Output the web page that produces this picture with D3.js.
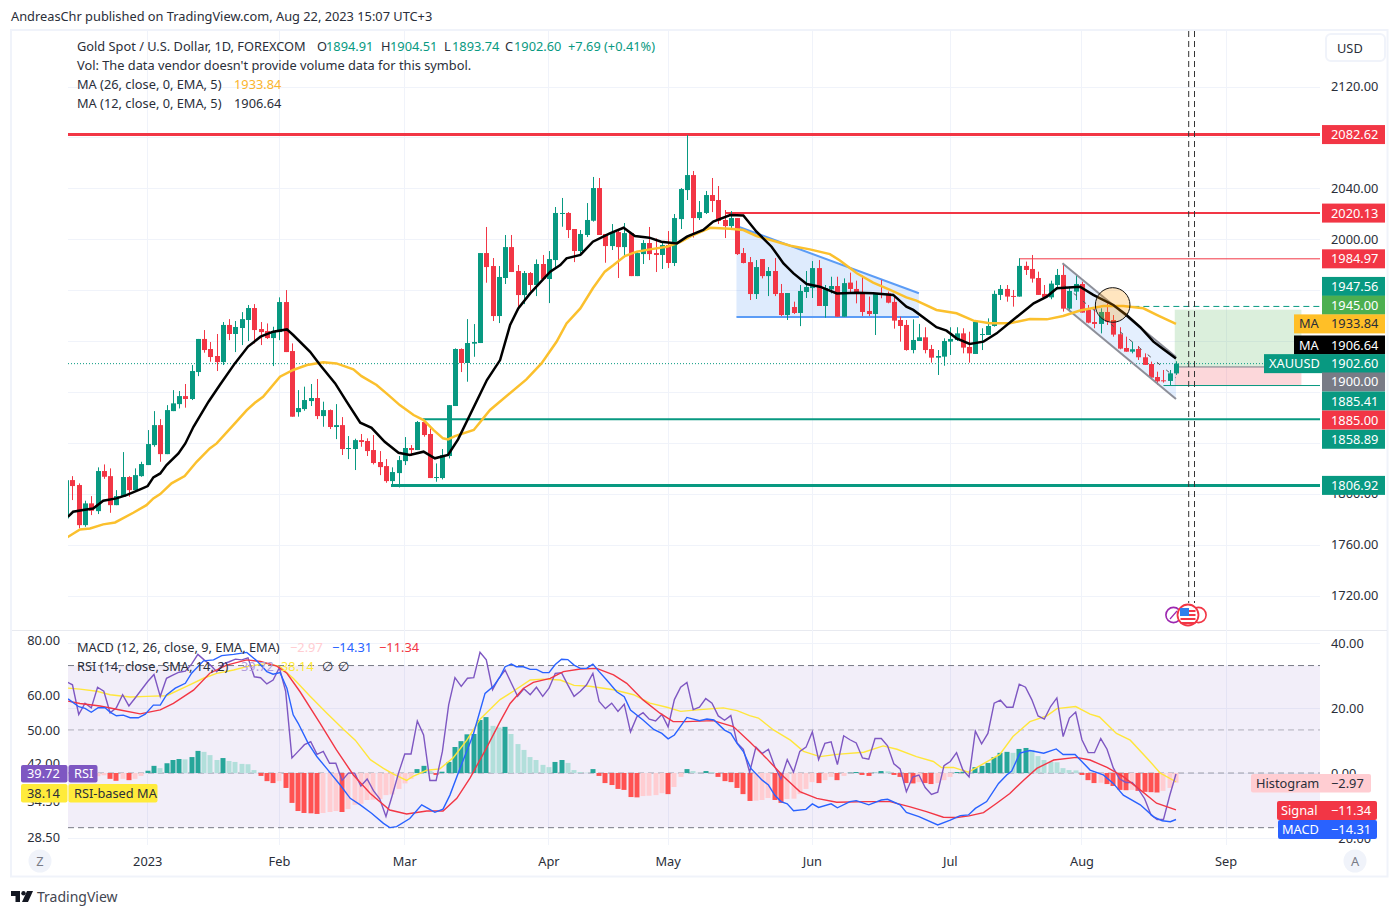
<!DOCTYPE html>
<html>
<head>
<meta charset="utf-8">
<script src="https://cdn.jsdelivr.net/npm/d3@7/dist/d3.min.js"></script>
<style>
  html, body { margin: 0; padding: 0; background: #fff; }
  svg { display: block; }
  text { font-family: "Noto Sans", sans-serif; font-size: 12.8px; fill: #2a2e39; }
  .domain { display: none; }
  .tick line { display: none; }
</style>
</head>
<body>
<svg id="chart" width="1399" height="916"></svg>
<script>
// candles
const opens = [
  1781.0,1811.1,1807.2,1775.7,1792.8,1786.7,1818.2,1814.2,1791.4,1798.0,
  1813.5,1803.2,1814.2,1822.9,1838.6,1854.3,1831.5,1865.3,1870.8,1877.1,
  1874.8,1896.0,1922.0,1914.1,1908.6,1903.8,1933.0,1925.9,1930.6,1936.9,
  1946.3,1929.8,1928.2,1922.7,1927.4,1951.0,1912.5,1864.5,1866.9,1873.2,
  1875.6,1861.4,1866.1,1852.8,1854.3,1835.5,1835.5,1842.5,1841.8,1834.7,
  1825.3,1822.1,1810.3,1816.6,1826.0,1836.3,1834.7,1856.7,1847.3,1812.7,
  1812.7,1830.0,1869.3,1914.1,1903.1,1918.3,1918.8,1989.5,1979.3,1940.0,
  1969.9,1994.2,1975.4,1956.5,1973.8,1964.4,1980.9,1969.1,1984.0,2020.2,
  2021.0,2008.4,1991.1,2003.7,2014.9,2040.6,2004.5,1995.0,2006.0,1994.2,
  2005.2,1971.4,1988.7,1997.4,1989.5,1988.0,1995.8,1981.7,2016.2,2039.0,
  2050.8,2017.0,2021.0,2035.1,2031.2,2015.5,2010.7,2017.0,1989.5,1982.4,
  1957.3,1984.8,1971.4,1975.4,1958.1,1940.8,1947.1,1942.4,1958.9,1962.0,
  1977.7,1947.9,1961.0,1963.6,1939.5,1966.3,1961.3,1958.4,1944.0,1941.6,
  1957.9,1957.9,1951.1,1936.9,1933.0,1913.3,1920.4,1923.3,1914.1,1907.3,
  1908.1,1919.9,1921.2,1926.4,1915.7,1910.2,1925.1,1925.1,1932.2,1956.6,
  1961.3,1955.8,1955.3,1979.4,1977.0,1969.9,1957.4,1954.7,1964.4,1972.3,
  1945.8,1959.2,1965.2,1945.0,1935.3,1933.8,1943.2,1936.9,1925.7,1914.9,
  1912.0,1914.1,1907.6,1902.3,1892.1,1889.5,1889.0,1894.91
];
const highs = [
  1812.0,1814.2,1808.5,1794.9,1798.5,1821.1,1823.4,1820.3,1803.2,1833.1,
  1814.2,1820.3,1825.5,1850.4,1865.3,1859.0,1870.0,1881.8,1881.1,1886.6,
  1901.5,1922.0,1929.0,1919.6,1925.9,1935.3,1937.6,1936.1,1943.1,1948.7,
  1949.4,1935.3,1934.2,1931.6,1954.7,1960.4,1918.5,1881.8,1884.5,1886.6,
  1890.5,1872.7,1866.6,1870.8,1860.6,1845.7,1843.6,1847.3,1843.9,1846.5,
  1833.9,1827.6,1821.1,1830.0,1844.9,1838.6,1857.5,1858.3,1851.7,1824.2,
  1835.5,1870.0,1914.6,1914.6,1937.6,1933.7,1989.5,2010.0,1985.6,1979.3,
  2003.7,2003.7,1980.1,1975.4,1974.6,1984.5,1988.0,1991.1,2025.7,2032.8,
  2021.7,2008.4,2007.6,2028.8,2049.3,2048.5,2004.5,2012.3,2008.4,2013.1,
  2005.2,1991.1,1999.7,2010.0,2001.0,1999.0,2006.8,2020.2,2040.6,2082.3,
  2054.0,2030.4,2038.3,2048.5,2042.2,2023.3,2022.5,2017.0,1993.5,1986.4,
  1984.0,1984.8,1978.5,1985.6,1965.2,1958.1,1951.3,1964.4,1975.4,1983.2,
  1984.0,1964.4,1970.9,1970.9,1969.6,1974.1,1967.8,1971.8,1955.3,1957.9,
  1968.4,1959.2,1955.3,1939.5,1936.9,1937.4,1933.8,1931.2,1917.3,1913.3,
  1922.5,1931.2,1931.2,1930.4,1927.7,1935.6,1930.4,1938.2,1960.0,1964.4,
  1964.4,1960.5,1985.4,1982.8,1988.0,1974.9,1964.4,1967.8,1977.0,1981.5,
  1963.1,1972.8,1967.0,1948.7,1946.1,1946.1,1950.0,1940.8,1931.2,1923.8,
  1919.9,1916.5,1910.7,1904.2,1896.3,1897.6,1897.6,1904.51
];
const lows = [
  1780.0,1795.4,1773.1,1774.4,1783.6,1784.4,1812.1,1785.4,1791.4,1798.0,
  1798.0,1802.7,1813.7,1822.9,1837.3,1825.5,1831.5,1865.3,1867.4,1868.0,
  1874.0,1892.8,1911.2,1904.1,1896.8,1901.5,1921.1,1911.7,1917.2,1920.4,
  1918.5,1917.2,1922.0,1900.7,1921.1,1911.7,1860.9,1860.9,1865.6,1869.3,
  1859.0,1853.0,1851.2,1843.3,1830.8,1827.6,1819.0,1837.3,1830.0,1823.4,
  1815.0,1809.0,1807.2,1805.3,1822.9,1830.0,1834.7,1845.2,1812.7,1809.8,
  1811.6,1828.1,1869.3,1896.0,1888.4,1908.0,1918.8,1966.2,1936.1,1934.5,
  1965.2,1974.6,1944.7,1949.4,1959.7,1955.7,1968.3,1950.2,1978.3,2010.2,
  2001.3,1982.4,1988.0,2002.1,2014.2,2003.7,1981.9,1991.9,1969.9,1988.0,
  1971.4,1971.4,1980.9,1984.0,1974.6,1977.0,1977.7,1979.3,2008.4,2031.2,
  2001.7,2015.5,2020.2,2021.7,2012.3,2001.3,2007.6,1988.0,1981.4,1952.6,
  1953.4,1969.6,1955.7,1955.7,1940.0,1936.9,1941.6,1932.1,1954.2,1954.2,
  1947.9,1938.7,1957.8,1939.5,1939.5,1957.9,1950.0,1940.1,1940.1,1925.1,
  1954.0,1950.0,1930.1,1919.9,1912.8,1910.7,1920.4,1910.7,1903.4,1893.7,
  1901.0,1909.4,1920.4,1910.7,1903.4,1910.2,1913.3,1925.1,1931.7,1952.6,
  1951.3,1947.4,1955.3,1972.3,1966.3,1956.6,1953.9,1953.2,1961.0,1943.5,
  1944.8,1952.6,1942.7,1934.3,1930.4,1926.4,1933.0,1923.8,1913.9,1912.0,
  1910.7,1905.5,1901.6,1891.1,1885.8,1887.7,1885.8,1893.74
];
const closes = [
  1811.0,1806.4,1775.7,1792.8,1787.0,1818.2,1813.7,1791.4,1798.5,1813.5,
  1803.2,1815.0,1823.7,1839.4,1854.3,1831.5,1866.1,1871.4,1877.1,1874.8,
  1896.8,1922.0,1913.3,1907.8,1903.8,1933.0,1925.9,1931.4,1937.6,1946.3,
  1929.0,1927.4,1922.7,1928.2,1951.0,1911.7,1860.9,1867.7,1874.0,1875.6,
  1861.4,1866.1,1852.8,1854.3,1835.5,1836.3,1842.5,1841.0,1833.9,1824.5,
  1821.3,1810.3,1817.4,1826.8,1836.3,1834.7,1856.7,1846.5,1812.7,1813.5,
  1830.7,1870.0,1914.1,1903.1,1918.8,1919.6,1989.5,1978.5,1940.0,1970.7,
  1994.2,1974.6,1956.5,1973.8,1964.4,1980.9,1969.1,1984.8,2021.0,2021.0,
  2007.6,1991.1,2004.5,2015.5,2040.6,2003.7,1995.0,2006.0,1994.2,2005.2,
  1971.4,1989.5,1997.4,1988.7,1988.0,1995.8,1981.7,2017.0,2039.8,2050.8,
  2017.0,2021.7,2035.1,2030.4,2014.7,2010.7,2017.0,1988.7,1981.7,1957.3,
  1978.5,1971.4,1975.4,1957.3,1940.8,1958.1,1942.4,1959.7,1962.8,1977.7,
  1947.9,1962.0,1963.6,1939.5,1965.9,1961.3,1957.4,1943.2,1941.6,1957.9,
  1956.6,1950.5,1936.4,1932.2,1913.3,1921.2,1923.3,1913.3,1907.3,1908.6,
  1920.4,1922.0,1926.4,1915.2,1910.7,1935.6,1925.9,1932.2,1957.4,1961.3,
  1955.3,1955.3,1979.4,1976.2,1969.4,1956.6,1954.7,1965.5,1972.3,1945.8,
  1959.7,1965.2,1942.7,1934.8,1933.8,1943.2,1935.6,1925.4,1914.4,1912.0,
  1913.9,1907.6,1901.6,1891.6,1888.7,1889.0,1895.0,1902.60
];

// moving averages as [bar, price]
const ma12 = [
  [0.3,1782.3],[1.1,1786.2],[2.7,1787.5],[4.3,1788.8],[5.9,1794.9],[8,1796.7],[9.6,1799.3],[11.8,1803.8],[13,1806.4],
  [13.9,1813.2],[15,1816.3],[16,1822.9],[17.9,1832.1],[19,1839.9],[20.3,1853],[22.7,1872.7],[24.5,1885.8],[26.9,1902.8],
  [29,1916],[31,1923.8],[33,1927.7],[35.2,1929.5],[36.2,1925.1],[38.9,1911.9],[40.5,1901.5],[42.9,1887.1],[44.7,1872.9],
  [46.9,1856.2],[48.7,1852.2],[50.8,1841.2],[53,1832.6],[54.8,1830.8],[57,1833.4],[58.8,1828.2],[60.9,1830.8],[62.5,1843.1],
  [67.1,1889.7],[69.2,1905.4],[70.8,1933],[72.1,1946],[74,1957.8],[77.2,1974.8],[78.8,1980.1],[79.8,1985.3],[82,1988],
  [84,1998.4],[86.7,2005],[88.9,2009.4],[90.7,2002.9],[93,2001.6],[94.9,1998.4],[97.4,1997.1],[99,2002.4],[101.6,2007.6],
  [103.2,2014.2],[105.9,2019.4],[108,2019.1],[110.1,2006.3],[112.5,1994.5],[114.4,1981.4],[116,1973.5],[118.1,1965.2],
  [120.2,1963.1],[122.9,1957.8],[126.1,1958.4],[128.7,1957.9],[131.9,1956.6],[134,1947.4],[135.1,1944.8],[138.8,1931.2],
  [140.4,1928.5],[142,1922.5],[144.1,1918.1],[146.3,1919.9],[148.4,1926.4],[151,1936.9],[154.3,1950],[156.4,1955.3],
  [158,1961.8],[161.7,1963.1],[163.8,1956.6],[167,1948.7],[169.1,1940.8],[171.3,1931.2],[173.4,1919.9],[175,1913.9],[177,1906.64]
];
const ma26 = [
  [0,1765.6],[2.2,1772.3],[3.8,1773.1],[5.9,1776.3],[7.8,1777.8],[10.7,1785.4],[12.8,1791.4],[13.9,1796.7],[15,1800.1],[16.8,1808.5],
  [18.9,1814.2],[20.8,1825.5],[22.9,1836],[24,1839.9],[26.9,1855.6],[28.8,1866.1],[30.1,1871.9],[31.4,1876.6],[34.1,1892.3],
  [36.2,1897.6],[38.4,1901.5],[41,1903.6],[43.1,1902.8],[45.8,1898.1],[47.1,1892.8],[49.5,1885.8],[51.4,1877.9],[53.2,1870],
  [55.4,1862.2],[57,1858.3],[58.6,1850.4],[60.1,1843.9],[60.9,1843.1],[62,1845.7],[65,1850.5],[67.6,1866.2],[73.4,1890.2],
  [75.8,1902.8],[78.2,1919.8],[79.8,1934.2],[82,1946],[84,1961.8],[85.9,1974.9],[87.3,1980.1],[89.1,1987.2],[91,1990.6],
  [93.1,1992.4],[95.8,1994.5],[98,1998.4],[100,2003.7],[102.7,2009.4],[105.9,2008.6],[108,2007.6],[110.1,2002.9],[113.3,1998.4],
  [115.5,1995.3],[118.6,1992.4],[121.8,1988.7],[123.4,1983.6],[126.1,1973.6],[128.7,1966.3],[131.4,1960.5],[134,1954.7],
  [135.6,1952.1],[138.8,1944.8],[142,1942.2],[144.7,1936.4],[147.3,1934.3],[150.5,1934.3],[153.7,1937.7],[156.4,1937.4],
  [159,1940.1],[161.7,1944.3],[165.4,1947.9],[168.6,1947.9],[171.8,1946.1],[174,1940.8],[177,1933.84]
];

// lower pane
const rsiValues = [
  64.4,63.3,54.2,57.5,56.1,62.5,61.2,54.7,56.1,60.1,56.7,59.1,61.7,64.4,66.8,59.6,65.5,66.6,67.6,68.0,
  70.5,74.2,72.1,70.2,67.8,70.5,71.4,72.4,72.1,72.9,66.0,65.7,63.6,64.9,69.2,61.2,43.2,44.7,46.3,47.0,
  44.0,44.7,42.0,42.0,38.4,39.9,39.9,37.3,38.7,36.4,34.9,31.8,35.5,39.9,44.1,44.1,52.4,48.7,38.4,38.4,
  44.7,57.0,65.7,62.8,65.5,65.7,75.0,72.1,61.7,65.5,68.4,63.8,59.6,62.0,60.1,62.5,59.6,62.2,67.2,67.4,
  63.3,59.6,61.2,63.3,67.2,58.0,55.9,57.5,55.1,57.2,49.5,53.5,54.7,52.9,52.4,54.2,50.8,58.6,62.5,64.1,
  55.6,56.3,58.9,57.5,53.8,52.6,53.9,46.7,45.2,40.1,45.7,44.2,45.2,41.3,38.7,42.8,40.1,44.7,45.7,49.5,
  42.8,46.6,47.0,41.7,48.5,47.5,46.7,43.2,42.9,47.8,47.8,46.0,41.9,40.8,36.2,39.1,39.5,37.0,35.7,36.1,
  41.5,42.4,44.4,40.6,39.1,49.7,46.5,49.1,57.5,58.4,56.3,56.3,63.5,62.5,58.6,53.8,52.9,56.5,59.1,48.3,
  53.2,54.9,47.5,44.4,44.4,47.8,45.2,41.0,38.7,38.0,38.0,36.7,34.9,32.1,31.3,31.3,35.5,39.72
];
const rsiMa = [
  [0.3,62.2],[2.2,61.9],[4.9,61.2],[7,60.1],[10.2,59.4],[12.8,59.6],[16,59.8],[19.2,62.8],[21.9,65.5],[24,67.2],[26.7,68.4],
  [28.8,69.6],[32,70.8],[34.1,69.6],[36.2,65.5],[38.9,59.6],[41.5,54.7],[44.2,50.2],[46.1,47.4],[48.5,42.8],[50.6,40.9],
  [52.2,39.7],[54.3,38.4],[55.4,39.3],[57.5,40.5],[59.6,40.8],[61.7,43.2],[63.9,47.4],[66,52.9],[68.1,56.6],[69.2,58.6],
  [71.3,61.2],[74,64.9],[76.1,65.2],[78.8,64.9],[81,63.1],[83.5,62.8],[87.3,61.7],[90.5,60.1],[93.1,57.5],[95.8,56.3],
  [98,55.1],[101.1,55.6],[104.8,56.1],[107,55.3],[109,53.9],[110.4,53.2],[112.8,50],[115.5,47.4],[117.6,44.7],[120.2,43.5],
  [122.9,44],[127.2,44.5],[130.3,46],[132.5,45.2],[135.6,43.5],[138.3,42.4],[139.6,41.1],[141.5,41.1],[143.9,40.1],
  [148.9,44],[151,48.3],[153.7,52.2],[156.4,53.8],[158,55.9],[161,56.5],[163.3,54.3],[164.8,53.5],[167.5,49.1],[169.7,47.4],
  [172.6,42.8],[174.5,39.9],[177,38.14]
];
const histValues = [
  -1.0,-0.8,-0.5,-0.6,-1.2,-1.0,-0.7,-1.8,-2.4,-1.8,-2.2,-1.8,-0.9,0.7,2.2,1.5,3.0,4.0,4.3,4.2,
  4.9,6.8,6.5,5.5,4.0,4.6,3.7,3.4,2.8,2.7,0.9,-0.9,-2.5,-3.1,-2.5,-4.6,-9.2,-11.7,-12.3,-12.4,
  -12.6,-12.3,-12.0,-11.7,-12.0,-11.1,-9.8,-9.5,-8.3,-8.2,-8.0,-6.8,-6.6,-4.9,-3.2,-1.8,1.2,2.2,0.6,-0.6,
  0.4,3.4,8.0,9.8,11.9,12.0,16.3,17.2,14.5,14.0,14.2,12.0,8.9,7.1,4.9,4.0,2.5,1.8,3.4,4.0,
  3.1,0.9,0.3,0.1,1.2,-0.9,-3.1,-3.7,-4.9,-5.2,-7.4,-7.5,-7.1,-7.0,-6.8,-6.2,-6.5,-4.3,-1.2,1.2,
  0.6,0.1,0.6,0.3,-1.2,-2.5,-2.8,-4.6,-6.5,-8.6,-8.5,-8.3,-7.7,-8.3,-9.2,-8.0,-7.9,-6.5,-4.9,-2.8,
  -3.1,-2.2,-1.2,-2.2,-0.9,0.1,0.3,-0.6,-0.9,0.1,0.6,0.5,-0.6,-1.2,-3.1,-3.2,-2.8,-3.1,-3.4,-3.1,
  -2.2,-1.2,0.3,0.4,0.1,1.8,2.2,3.1,4.9,6.2,6.5,6.2,7.4,7.7,7.1,5.2,4.0,3.4,3.3,1.5,
  0.9,0.8,-0.6,-2.2,-3.1,-3.0,-3.4,-4.0,-5.2,-5.3,-5.2,-5.5,-5.8,-5.9,-6.0,-5.5,-4.6,-2.97
];
const macdLine = [
  [0.3,22.8],[2,20.4],[3,19.9],[4,18.7],[5.1,20.1],[6.2,20.1],[7,18.7],[8,17.6],[9.1,17.8],[10.2,17],[11.5,17],[12.6,18.1],
  [13.9,20.9],[15,20.9],[16,24],[17.4,26.1],[19,27.6],[20,30.7],[21.9,34.5],[23.5,34.8],[24.8,36.1],[26.7,36.5],[28.8,37.1],
  [30.4,34.5],[32,31.2],[33,30.4],[34.1,30.9],[35.2,26.1],[36.2,17.9],[37,15.3],[38.6,9.1],[40,5],[41.5,1.5],[43.7,-3.7],
  [45.3,-7.8],[46.9,-9.8],[48.7,-12.4],[50.6,-15.5],[51.6,-16.8],[52.7,-16.5],[54.8,-14],[56.7,-9.8],[57.7,-10.9],[58.8,-12.1],
  [60.1,-11.1],[61.2,-6.8],[62.8,1.4],[64.9,11.7],[66.8,24.5],[68.1,26.6],[69.2,29.6],[70,32.7],[71,33.5],[71.8,32.7],[72.9,32.7],
  [74,31.9],[75,31.9],[76,30.9],[77,30.9],[78,33.4],[79,35],[80,34.9],[81,33.2],[82,32.2],[83,32.2],[84,33.5],[85,31.2],[86.2,28.6],
  [87.8,25],[89,23.5],[90,19.4],[92,16.3],[93.7,13.4],[95,12.2],[96,10.5],[97,11.7],[99,17.1],[101,16.1],[102.2,16.6],[103.3,16.3],
  [105,13.2],[106,12.2],[107,9.1],[108,6.6],[109.2,1.4],[111,-2.2],[112,-3.7],[113,-6.8],[114,-8.8],[115,-9.5],[116,-11.6],[118,-11.2],
  [119,-9.5],[120,-10.6],[122,-9.5],[123,-10.7],[125,-8.8],[126,-8.5],[128,-9.8],[130,-8.3],[131,-8.1],[133,-9.8],[134,-12.1],[136,-13.4],
  [139,-16],[141,-14.5],[142.6,-13.1],[143.9,-12.9],[145,-10.9],[146.8,-8.8],[148.7,-3.2],[150,-0.6],[150.8,0.6],[152.1,6.1],[153.7,6.9],
  [155.9,6.1],[157.9,7.4],[159,5.7],[160.9,5.7],[163.3,0.9],[165.4,-0.6],[167,-3.2],[168.6,-6.8],[171.3,-9.8],[173.4,-13.4],[174.8,-14.7],
  [176.1,-15],[177,-14.31]
];
const signalLine = [
  [0.3,22.1],[2.2,21.4],[5.4,20.6],[8.6,19.4],[11.8,18.2],[15,19.4],[17.1,21.4],[20.3,25.5],[22.9,30.7],[25.6,33.2],[28.8,34.8],
  [31,34.3],[33.6,32.9],[35.2,30.7],[37.3,25],[40.5,15.3],[43.1,7.1],[45.8,-0.6],[48.5,-6.3],[51.6,-11.4],[54.3,-12.6],[57.5,-11.7],
  [60.1,-11.7],[62.3,-7.8],[64.4,-1.6],[67,7.6],[69.2,15.8],[70.8,21.4],[72.9,26],[74.5,27.9],[77.2,29.1],[79.3,31.2],[82,32],[84.6,32.2],
  [87.3,30.2],[89.4,27.6],[92,22.5],[94.7,18.4],[96.8,15.8],[98.9,15.8],[103.2,16.1],[106.4,14.3],[109,9.6],[111.7,4.5],[114.4,-1.1],
  [117,-5.7],[119.7,-7.8],[122.9,-9],[127.7,-8.8],[131.4,-8.8],[134.6,-10.4],[137.2,-11.9],[139.9,-13.6],[142,-13.7],[144,-13.2],
  [146.3,-12.2],[148.4,-9.3],[150.5,-6.3],[152.7,-2.2],[154.8,1.4],[157.5,4],[161.1,4.8],[163.3,4],[166,1.7],[168.6,-1.1],[171.3,-5.2],
  [173.9,-9.3],[177,-11.34]
];

// axes
const monthBars = [13,34,54,77,96,119,141,162,185];
const monthNames = ["2023","Feb","Mar","Apr","May","Jun","Jul","Aug","Sep"];
const priceGrid = [2120,2080,2040,2000,1960,1920,1880,1840,1800,1760,1720];
const priceTicks = [2120,2040,2000,1800,1760,1720];
const rsiTicks = [80,60,50,42,34.5,28.5];
const macdTicks = [40,20,0,-20];

// price tags on the right
const tagValues = [2082.62,2020.13,1984.97,1947.56,1945.00,1933.84,1906.64,1902.60,1900.00,1885.41,1885.00,1858.89,1806.92];
const tagNudges = [0,-1,0,-20,-4.5,0,-13.5,0,15,15.5,34,20,0];
const tagColors = ["#f23645","#f23645","#f23645","#089981","#4caf50","#ffbf27","#000000","#089981","#787b86","#089981","#f23645","#089981","#089981"];
const tagNames = ["","","","","","MA","MA","XAUUSD","","","","",""];

const svg = d3.select("#chart");
const left = 68, right = 1320;

const x = d3.scaleLinear().domain([0, 200]).range([66.2, 1320.2]);
const y = d3.scaleLinear().domain([2120, 1720]).range([87, 596]);
const yMacd = d3.scaleLinear().domain([40, -20]).range([643, 838]);
const yRsi = d3.scaleLog().domain([80, 28.5]).range([640, 837.5]);

svg.append("defs").append("clipPath").attr("id", "plot")
  .append("rect").attr("x", left).attr("y", 31).attr("width", right - left).attr("height", 815);

// frame
svg.append("text").attr("x", 11).attr("y", 21).text("AndreasChr published on TradingView.com, Aug 22, 2023 15:07 UTC+3");
svg.append("rect").attr("x", 11).attr("y", 30).attr("width", 1376.5).attr("height", 846.5)
  .attr("fill", "none").attr("stroke", "#f0f3fa").attr("stroke-width", 2);
svg.append("line").attr("x1", 12).attr("x2", 1387).attr("y1", 630.5).attr("y2", 630.5)
  .attr("stroke", "#e8eaf0").attr("stroke-width", 1);

// grid
const grid = svg.append("g").attr("stroke", "#f0f3fa").attr("stroke-width", 1).attr("shape-rendering", "crispEdges");
monthBars.forEach(b => {
  grid.append("line").attr("x1", x(b)).attr("x2", x(b)).attr("y1", 31).attr("y2", 845);
});
priceGrid.forEach(p => {
  grid.append("line").attr("x1", left).attr("x2", right).attr("y1", y(p)).attr("y2", y(p));
});
macdTicks.forEach(p => {
  grid.append("line").attr("x1", left).attr("x2", right).attr("y1", yMacd(p)).attr("y2", yMacd(p));
});

const upper = svg.append("g").attr("clip-path", "url(#plot)");

// triangle
const triBars = [106.9, 136], triTop = [2010.8, 1957.9], triBase = 1939.3;
upper.append("path")
  .attr("d", `M${x(triBars[0])},${y(triTop[0])}L${x(triBars[1])},${y(triTop[1])}L${x(triBars[1])},${y(triBase)}L${x(triBars[0])},${y(triBase)}Z`)
  .attr("fill", "rgba(33,120,243,0.15)");
upper.append("line").attr("x1", x(triBars[0])).attr("x2", x(triBars[1])).attr("y1", y(triTop[0])).attr("y2", y(triTop[1]))
  .attr("stroke", "#5b9cf6").attr("stroke-width", 2);
upper.append("line").attr("x1", x(triBars[0])).attr("x2", x(triBars[1])).attr("y1", y(triBase)).attr("y2", y(triBase))
  .attr("stroke", "#5b9cf6").attr("stroke-width", 2);

// channel
const chanBars = [158.9, 177], chanTop = [1981.5, 1907.8], chanLow = [1946.1, 1874.8];
upper.append("path")
  .attr("d", `M${x(chanBars[0])},${y(chanTop[0])}L${x(chanBars[1])},${y(chanTop[1])}L${x(chanBars[1])},${y(chanLow[1])}L${x(chanBars[0])+4},${y(chanLow[0])}Z`)
  .attr("fill", "rgba(33,120,243,0.12)");

// position box
const boxBars = [176.8, 197];
upper.append("rect").attr("x", x(boxBars[0])).attr("width", x(boxBars[1]) - x(boxBars[0]))
  .attr("y", y(1945)).attr("height", y(1900) - y(1945)).attr("fill", "rgba(76,175,80,0.2)");
upper.append("rect").attr("x", x(boxBars[0])).attr("width", x(boxBars[1]) - x(boxBars[0]))
  .attr("y", y(1900)).attr("height", y(1885) - y(1900)).attr("fill", "rgba(242,54,69,0.2)");

// horizontal levels
const hLevels = [
  { v: 2082.62, b: 0, c: "#f23645", w: 3 },
  { v: 2020.9, b: 105.2, c: "#f23645", w: 2 },
  { v: 1984.97, b: 152, c: "#f23645", w: 1 },
  { v: 1858.89, b: 56.9, c: "#089981", w: 2 },
  { v: 1806.92, b: 51.8, c: "#089981", w: 3 },
  { v: 1885.41, b: 175, c: "#089981", w: 1 },
  { v: 1900.00, b: 176.8, c: "#787b86", w: 1 }
];
hLevels.forEach(h => {
  upper.append("line").attr("x1", x(h.b)).attr("x2", right).attr("y1", y(h.v)).attr("y2", y(h.v))
    .attr("stroke", h.c).attr("stroke-width", h.w);
});
upper.append("line").attr("x1", x(170.2)).attr("x2", right).attr("y1", y(1947.56)).attr("y2", y(1947.56))
  .attr("stroke", "#089981").attr("stroke-dasharray", "6 4");
upper.append("line").attr("x1", left).attr("x2", right).attr("y1", y(1902.6)).attr("y2", y(1902.6))
  .attr("stroke", "#089981").attr("stroke-dasharray", "1 2");

// candles
const bars = d3.range(opens.length);
upper.selectAll(".wick").data(bars).enter().append("rect")
  .attr("x", d => Math.round(x(d)))
  .attr("width", 1)
  .attr("y", d => y(highs[d]))
  .attr("height", d => y(lows[d]) - y(highs[d]))
  .attr("fill", d => closes[d] >= opens[d] ? "#089981" : "#f23645");
upper.selectAll(".body").data(bars).enter().append("rect")
  .attr("x", d => Math.round(x(d)) - 2)
  .attr("width", 5)
  .attr("y", d => y(Math.max(opens[d], closes[d])))
  .attr("height", d => Math.max(1, Math.abs(y(opens[d]) - y(closes[d]))))
  .attr("fill", d => closes[d] >= opens[d] ? "#089981" : "#f23645");

// channel edges and middle dashes, over the candles
upper.append("line").attr("x1", x(chanBars[0])).attr("x2", x(chanBars[1])).attr("y1", y(chanTop[0])).attr("y2", y(chanTop[1]))
  .attr("stroke", "#8d8f99").attr("stroke-width", 2);
upper.append("line").attr("x1", x(chanBars[0]) + 4).attr("x2", x(chanBars[1])).attr("y1", y(chanLow[0])).attr("y2", y(chanLow[1]))
  .attr("stroke", "#8d8f99").attr("stroke-width", 2);
upper.append("line").attr("x1", x(chanBars[0]) + 2).attr("x2", x(chanBars[1])).attr("y1", y((chanTop[0] + chanLow[0]) / 2)).attr("y2", y((chanTop[1] + chanLow[1]) / 2))
  .attr("stroke", "#555", ).attr("stroke-width", 1).attr("stroke-dasharray", "4 8");

// moving averages
const priceLine = d3.line().x(d => x(d[0])).y(d => y(d[1]));
upper.append("path").datum(ma26).attr("d", priceLine).attr("fill", "none").attr("stroke", "#fbc02d").attr("stroke-width", 2.5);
upper.append("path").datum(ma12).attr("d", priceLine).attr("fill", "none").attr("stroke", "#000").attr("stroke-width", 2.5);

// circle marker
upper.append("circle").attr("cx", x(166.9)).attr("cy", y(1948.7)).attr("r", 17.3)
  .attr("fill", "rgba(255,152,0,0.25)").attr("stroke", "#111").attr("stroke-width", 1);

// lower pane
const lower = svg.append("g").attr("clip-path", "url(#plot)");
lower.append("rect").attr("x", left).attr("width", right - left)
  .attr("y", yRsi(70)).attr("height", yRsi(30) - yRsi(70)).attr("fill", "rgba(126,87,194,0.1)");
[70, 30].forEach(v => {
  lower.append("line").attr("x1", left).attr("x2", right).attr("y1", yRsi(v)).attr("y2", yRsi(v))
    .attr("stroke", "#787b86").attr("stroke-dasharray", "6 4");
});
lower.append("line").attr("x1", left).attr("x2", right).attr("y1", yRsi(50)).attr("y2", yRsi(50))
  .attr("stroke", "rgba(120,123,134,0.55)").attr("stroke-dasharray", "6 4");
lower.append("line").attr("x1", left).attr("x2", right).attr("y1", yMacd(0)).attr("y2", yMacd(0))
  .attr("stroke", "rgba(120,123,134,0.7)").attr("stroke-dasharray", "6 4");

function histColor(i) {
  const v = histValues[i], prev = i > 0 ? histValues[i - 1] : v;
  if (v >= 0) return v >= prev ? "#26a69a" : "#b2dfdb";
  return v < prev ? "#ff5252" : "#ffcdd2";
}
lower.selectAll(".hist").data(bars).enter().append("rect")
  .attr("x", d => Math.round(x(d)) - 2.5)
  .attr("width", 5)
  .attr("y", d => Math.min(yMacd(histValues[d]), yMacd(0)))
  .attr("height", d => Math.abs(yMacd(histValues[d]) - yMacd(0)))
  .attr("fill", histColor);

const macdPath = d3.line().x(d => x(d[0])).y(d => yMacd(d[1]));
const rsiPath = d3.line().x(d => x(d[0])).y(d => yRsi(d[1]));
lower.append("path").datum(rsiMa).attr("d", rsiPath).attr("fill", "none").attr("stroke", "#ffe63b").attr("stroke-width", 1.4);
lower.append("path").datum(rsiValues.map((v, i) => [i, v])).attr("d", rsiPath).attr("fill", "none").attr("stroke", "#7e57c2").attr("stroke-width", 1.4);
lower.append("path").datum(signalLine).attr("d", macdPath).attr("fill", "none").attr("stroke", "#f23645").attr("stroke-width", 1.4);
lower.append("path").datum(macdLine).attr("d", macdPath).attr("fill", "none").attr("stroke", "#2962ff").attr("stroke-width", 1.4);

// vertical dashed lines
[1188.7, 1194.5].forEach(px => {
  svg.append("line").attr("x1", px).attr("x2", px).attr("y1", 31).attr("y2", 603)
    .attr("stroke", "#333").attr("stroke-dasharray", "6 4");
});

// event icons
const icons = svg.append("g");
icons.append("circle").attr("cx", 1173.5).attr("cy", 615).attr("r", 7.6).attr("fill", "#fff").attr("stroke", "#9c27b0").attr("stroke-width", 1.6);
icons.append("line").attr("x1", 1170).attr("x2", 1177).attr("y1", 619).attr("y2", 611).attr("stroke", "#9c27b0").attr("stroke-width", 1.2);
icons.append("circle").attr("cx", 1198.5).attr("cy", 615).attr("r", 7.6).attr("fill", "#fff").attr("stroke", "#f23645").attr("stroke-width", 1.6);
icons.append("circle").attr("cx", 1188).attr("cy", 615).attr("r", 10.5).attr("fill", "#fff").attr("stroke", "#f23645").attr("stroke-width", 1.8);
[610, 614, 618, 622].forEach(sy => {
  icons.append("rect").attr("x", 1180.5).attr("width", 15).attr("y", sy).attr("height", 2).attr("fill", "#f23645");
});
icons.append("rect").attr("x", 1180).attr("y", 608).attr("width", 9).attr("height", 8).attr("fill", "#2f80ed");

// axes
const priceAxis = d3.axisRight(y).tickValues(priceTicks).tickFormat(d3.format(".2f")).tickSize(0).tickPadding(0);
svg.append("g").attr("transform", "translate(1331,-0.5)").call(priceAxis);
const macdAxis = d3.axisRight(yMacd).tickValues(macdTicks).tickFormat(d => d3.format(".2f")(d).replace("-", "\u2212")).tickSize(0).tickPadding(0);
svg.append("g").attr("transform", "translate(1331,0)").call(macdAxis);
const rsiAxis = d3.axisLeft(yRsi).tickValues(rsiTicks).tickFormat(d3.format(".2f")).tickSize(0).tickPadding(0);
svg.append("g").attr("transform", "translate(60,0)").call(rsiAxis);
const timeAxis = d3.axisBottom(x).tickValues(monthBars).tickFormat((d, i) => monthNames[i]).tickSize(0).tickPadding(0);
svg.append("g").attr("transform", "translate(-0.5,857)").call(timeAxis);
svg.selectAll(".tick text").style("font-family", '"Noto Sans", sans-serif').style("font-size", "12.8px").attr("fill", "#2a2e39");

// USD box
svg.append("rect").attr("x", 1326).attr("y", 34).attr("width", 59).attr("height", 27).attr("rx", 5)
  .attr("fill", "#fff").attr("stroke", "#f0f3fa").attr("stroke-width", 2);
svg.append("text").attr("x", 1337).attr("y", 53).text("USD");

// price tags
tagValues.forEach((v, i) => {
  const cy = y(v) + tagNudges[i];
  const startX = tagNames[i] === "XAUUSD" ? 1264 : (tagNames[i] === "MA" ? 1294 : 1322);
  const textFill = tagColors[i] === "#ffbf27" ? "#2a2e39" : "#fff";
  svg.append("rect").attr("x", startX).attr("width", 1385 - startX).attr("y", cy - 9.5).attr("height", 19).attr("fill", tagColors[i]);
  if (tagNames[i]) {
    svg.append("text").attr("x", startX + 5).attr("y", cy + 4.5).style("fill", textFill).text(tagNames[i]);
  }
  svg.append("text").attr("x", 1331).attr("y", cy + 4.5).style("fill", textFill).text(v.toFixed(2));
});

// lower pane tags
function tag(tx, ty, w, h, fill, label, textFill, labelX) {
  svg.append("rect").attr("x", tx).attr("y", ty).attr("width", w).attr("height", h).attr("fill", fill).attr("rx", 2);
  svg.append("text").attr("x", labelX === undefined ? tx + 5 : labelX).attr("y", ty + h / 2 + 4.5).style("fill", textFill).text(label);
}
tag(21, 765, 46.5, 17.5, "#7e57c2", "39.72", "#fff", 27);
tag(68.5, 765, 29, 17.5, "#7e57c2", "RSI", "#fff", 74);
tag(21, 784, 46.5, 18.5, "#ffeb3b", "38.14", "#2a2e39", 27);
tag(68.5, 784, 89, 18.5, "#ffeb3b", "RSI-based MA", "#2a2e39", 74);
tag(1251, 774, 120, 18.5, "#ffcdd2", "Histogram", "#2a2e39", 1256);
svg.append("text").attr("x", 1331).attr("y", 787.5).text("\u22122.97");
tag(1277, 801, 100, 19, "#f23645", "Signal", "#fff", 1281);
svg.append("text").attr("x", 1331).attr("y", 815).style("fill", "#fff").text("\u221211.34");
tag(1278, 820, 99, 19, "#2962ff", "MACD", "#fff", 1282);
svg.append("text").attr("x", 1331).attr("y", 834).style("fill", "#fff").text("\u221214.31");

// legends
function legend(items, ly) {
  items.forEach(it => {
    svg.append("text").attr("x", it[0]).attr("y", ly).style("fill", it[2] || "#2a2e39").text(it[1]);
  });
}
const teal = "#089981";
legend([[77,"Gold Spot / U.S. Dollar, 1D, FOREXCOM"],[317,"O"],[326,"1894.91",teal],[381,"H"],[390,"1904.51",teal],[444,"L"],[452,"1893.74",teal],[505,"C"],[514,"1902.60",teal],[568,"+7.69",teal],[604,"(+0.41%)",teal]], 51);
legend([[77,"Vol: The data vendor doesn't provide volume data for this symbol."]], 70);
legend([[77,"MA (26, close, 0, EMA, 5)"],[234,"1933.84","#fbb52d"]], 89);
legend([[77,"MA (12, close, 0, EMA, 5)"],[234,"1906.64"]], 108);
legend([[77,"MACD (12, 26, close, 9, EMA, EMA)"],[290,"\u22122.97","#ffcdd2"],[332,"\u221214.31","#2962ff"],[379,"\u221211.34","#f23645"]], 652);
legend([[77,"RSI (14, close, SMA, 14, 2)"],[241,"39.72","#b39ddb"],[281,"38.14","#ffeb3b"],[322,"\u2205"],[338,"\u2205"]], 671);

// round buttons
[[40, "Z"], [1355, "A"]].forEach(b => {
  svg.append("circle").attr("cx", b[0]).attr("cy", 861).attr("r", 11.5).attr("fill", "#f0f3fa");
  svg.append("text").attr("x", b[0]).attr("y", 866).attr("text-anchor", "middle").style("fill", "#787b86").text(b[1]);
});

// footer logo
const logo = svg.append("g").attr("fill", "#131722");
logo.append("path").attr("d", "M11,891H20V902H15.5V896H11Z");
logo.append("circle").attr("cx", 23.5).attr("cy", 893.2).attr("r", 2.2);
logo.append("path").attr("d", "M27,891H33L28,902H22Z");
svg.append("text").attr("x", 37).attr("y", 902).style("font-size", "14px").style("fill", "#434651").text("TradingView");
</script>
</body>
</html>
